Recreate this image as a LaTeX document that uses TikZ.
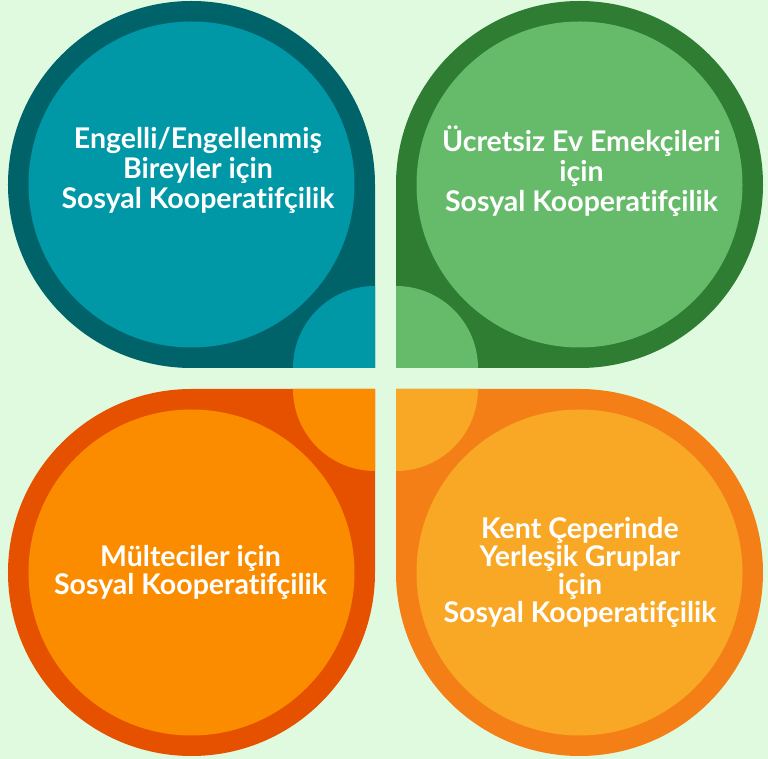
\documentclass[tikz,border=0pt]{standalone}
\usepackage{fontspec}
\setmainfont{Lato}[Ligatures=NoCommon]
\usepackage{tikz}
\usetikzlibrary{positioning}

\definecolor{bgmint}{HTML}{DFFADF}
\definecolor{tealdark}{HTML}{00636A}
\definecolor{teallight}{HTML}{0097A7}
\definecolor{greendark}{HTML}{2E7D32}
\definecolor{greenlight}{HTML}{66BB6A}
\definecolor{reddark}{HTML}{E65100}
\definecolor{redlight}{HTML}{FB8C00}
\definecolor{ambdark}{HTML}{F57F17}
\definecolor{amblight}{HTML}{F9A825}

% one petal: square corner at (-g,g), the rest round
\newcommand{\petal}[3]{%
  \begin{scope}[rotate=#1]
    \fill[#2] (-10.5,10.5) -- ++(0,183.5) arc[start angle=0, end angle=270, radius=183.5] -- cycle;
    \fill[#3] (-194,194) circle[radius=163];
    \fill[#3] (-10.5,10.5) -- ++(0,82) arc[start angle=90, end angle=180, radius=82] -- cycle;
  \end{scope}}

\tikzset{
  petaltext/.style={text=white, align=center, font=\bfseries\fontsize{28.5}{#1}\selectfont},
  petaltext/.default=30
}

\begin{document}
\begin{tikzpicture}[x=1pt, y=1pt]
    \fill[bgmint] (-385.5,-380.5) rectangle (382.5,378.5);
    \useasboundingbox (-385.5,-380.5) rectangle (382.5,378.5);

    \petal{0}{tealdark}{teallight}
    \petal{-90}{greendark}{greenlight}
    \petal{180}{ambdark}{amblight}
    \petal{90}{reddark}{redlight}

    \node[petaltext] (engelli) at (-187.5,208.5) {Engelli/Engellenmiş\\Bireyler için\\Sosyal Kooperatifçilik};
    \node[petaltext] (ucretsiz) at (196,207.5) {Ücretsiz Ev Emekçileri\\için\\Sosyal Kooperatifçilik};
    \node[petaltext=28] (multeci) at (-195,-194) {Mülteciler için\\Sosyal Kooperatifçilik};
    \node[petaltext=28] (kent) at (194.5,-193.5) {Kent Çeperinde\\Yerleşik Gruplar\\için\\Sosyal Kooperatifçilik};
\end{tikzpicture}
\end{document}
